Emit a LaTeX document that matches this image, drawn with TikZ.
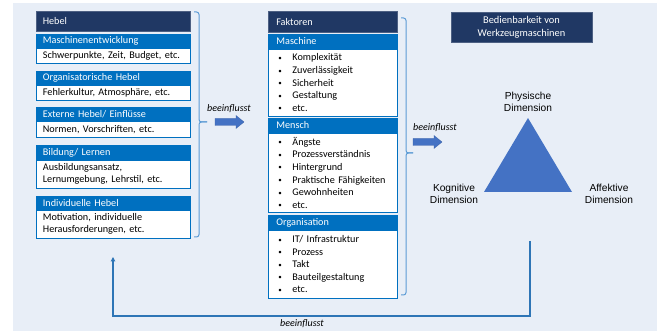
\documentclass[tikz,border=0pt]{standalone}
\usepackage{fontspec}
\setmainfont{Carlito}
\newfontfamily\arialf{Liberation Sans}
\usetikzlibrary{arrows.meta}
\definecolor{bgc}{HTML}{E8EEF7}
\definecolor{navy}{HTML}{203864}
\definecolor{hblue}{HTML}{0070C0}
\definecolor{bord}{HTML}{2E75B6}
\definecolor{brc}{HTML}{5B9BD5}
\definecolor{arrc}{HTML}{4472C4}
\newcommand\myblt{\makebox[14pt][l]{\raisebox{0.1ex}{\fontsize{7}{7}\selectfont •}}}
\newcommand\myblockarr[1]{\fill[arrc, draw=arrc!85!black, line width=0.3pt, shift={(#1)}] (0,-3.5) -- (21,-3.5) -- (21,-6.5) -- (29,0) -- (21,6.5) -- (21,3.5) -- (0,3.5) -- cycle;}
\begin{document}
\begin{tikzpicture}[x=1pt,y=-1pt,
  basebox/.style={anchor=north west, inner ysep=0pt, font=\fontsize{10.2}{12}\selectfont, align=left},
  titlebox/.style={basebox, fill=navy, text=white, draw=navy!80!white, line width=0.6pt},
  hdrbox/.style={basebox, fill=hblue, text=white, draw=hblue, line width=0.8pt},
  bodybox/.style={basebox, fill=white, text=black, draw=hblue, line width=0.8pt},
  leftcol/.style={inner xsep=6.5pt, text width=141pt},
  midcol/.style={inner xsep=8pt, text width=113pt},
  listbox/.style={bodybox, inner xsep=10pt, text width=109pt, font=\fontsize{10.2}{12.6}\selectfont},
  brace/.style={draw=brc, line width=1pt, rounded corners=2.5pt},
  infl/.style={font=\fontsize{10}{11}\selectfont\itshape, inner sep=0pt},
  dimlab/.style={font=\arialf\fontsize{10.2}{12.2}\selectfont, align=center, inner sep=0pt},
  loopline/.style={draw=bord, line width=1.1pt, -{Triangle[length=4.5pt,width=4.5pt]}}
]
\useasboundingbox (0,0) rectangle (662,331);
\fill[bgc] (13,3) rectangle (657,331);

% left column
\node[titlebox, leftcol, minimum height=20pt] (hebel) at (36,11) {Hebel};
\node[hdrbox, leftcol, minimum height=13pt] (h1) at (36,34) {Maschinenentwicklung};
\node[bodybox, leftcol, minimum height=15pt] (b1) at (h1.south west) {Schwerpunkte, Zeit, Budget, etc.};
\node[hdrbox, leftcol, minimum height=13pt] (h2) at (36,71) {Organisatorische Hebel};
\node[bodybox, leftcol, minimum height=15pt] (b2) at (h2.south west) {Fehlerkultur, Atmosphäre, etc.};
\node[hdrbox, leftcol, minimum height=13pt] (h3) at (36,107) {Externe Hebel/ Einflüsse};
\node[bodybox, leftcol, minimum height=16pt] (b3) at (h3.south west) {Normen, Vorschriften, etc.};
\node[hdrbox, leftcol, minimum height=14pt] (h4) at (36,145) {Bildung/ Lernen};
\node[bodybox, leftcol, minimum height=28pt] (b4) at (h4.south west) {Ausbildungsansatz,\\Lernumgebung, Lehrstil, etc.};
\node[hdrbox, leftcol, minimum height=13pt] (h5) at (36,196) {Individuelle Hebel};
\node[bodybox, leftcol, minimum height=28pt] (b5) at (h5.south west) {Motivation, individuelle\\Herausforderungen, etc.};

% middle column
\node[titlebox, midcol, minimum height=21pt] (fak) at (268,11) {Faktoren};
\node[hdrbox, midcol, minimum height=14pt] (mh1) at (268,34) {Maschine};
\node[listbox, minimum height=67pt] (mb1) at (mh1.south west) {\myblt Komplexität\\\myblt Zuverlässigkeit\\\myblt Sicherheit\\\myblt Gestaltung\\\myblt etc.};
\node[hdrbox, midcol, minimum height=14pt] (mh2) at (268,118) {Mensch};
\node[listbox, minimum height=79pt] (mb2) at (mh2.south west) {\myblt Ängste\\\myblt Prozessverständnis\\\myblt Hintergrund\\\myblt Praktische Fähigkeiten\\\myblt Gewohnheiten\\\myblt etc.};
\node[hdrbox, midcol, minimum height=14pt] (mh3) at (268,215) {Organisation};
\node[listbox, minimum height=68pt] (mb3) at (mh3.south west) {\myblt IT/ Infrastruktur\\\myblt Prozess\\\myblt Takt\\\myblt Bauteilgestaltung\\\myblt etc.};

% right title
\node[titlebox, minimum width=141pt, minimum height=30pt, align=center, anchor=center, font=\fontsize{10.4}{13}\selectfont] (bed) at (521.5,27) {Bedienbarkeit von\\Werkzeugmaschinen};

% braces
\draw[brace] (194,12) -- (199,12) -- (199,122) -- (207,122);
\draw[brace] (207,122) -- (199,122) -- (199,237) -- (194,237);
\draw[brace] (401,18) -- (406,18) -- (406,153) -- (413,153);
\draw[brace] (413,153) -- (406,153) -- (406,295) -- (401,295);

% block arrows and labels
\coordinate (a1) at (215,122);
\myblockarr{a1}
\node[infl] (t1) at (229,109) {beeinflusst};
\coordinate (a2) at (413,142);
\myblockarr{a2}
\node[infl] (t2) at (435,128) {beeinflusst};

% triangle
\coordinate (tA) at (528,118);
\coordinate (tB) at (484,192);
\coordinate (tC) at (572,192);
\fill[arrc] (tA) -- (tB) -- (tC) -- cycle;
\node[dimlab] (phys) at (528,102) {Physische\\Dimension};
\node[dimlab] (kog) at (454,194) {Kognitive\\Dimension};
\node[dimlab] (aff) at (609,194) {Affektive\\Dimension};

% feedback loop
\coordinate (ls) at (530,241);
\coordinate (lc1) at (530,316);
\coordinate (lc2) at (113,316);
\coordinate (le) at (113,257);
\draw[loopline] (ls) -- (lc1) -- (lc2) -- (le);
\node[infl] (t3) at (302,324) {beeinflusst};
\end{tikzpicture}
\end{document}
